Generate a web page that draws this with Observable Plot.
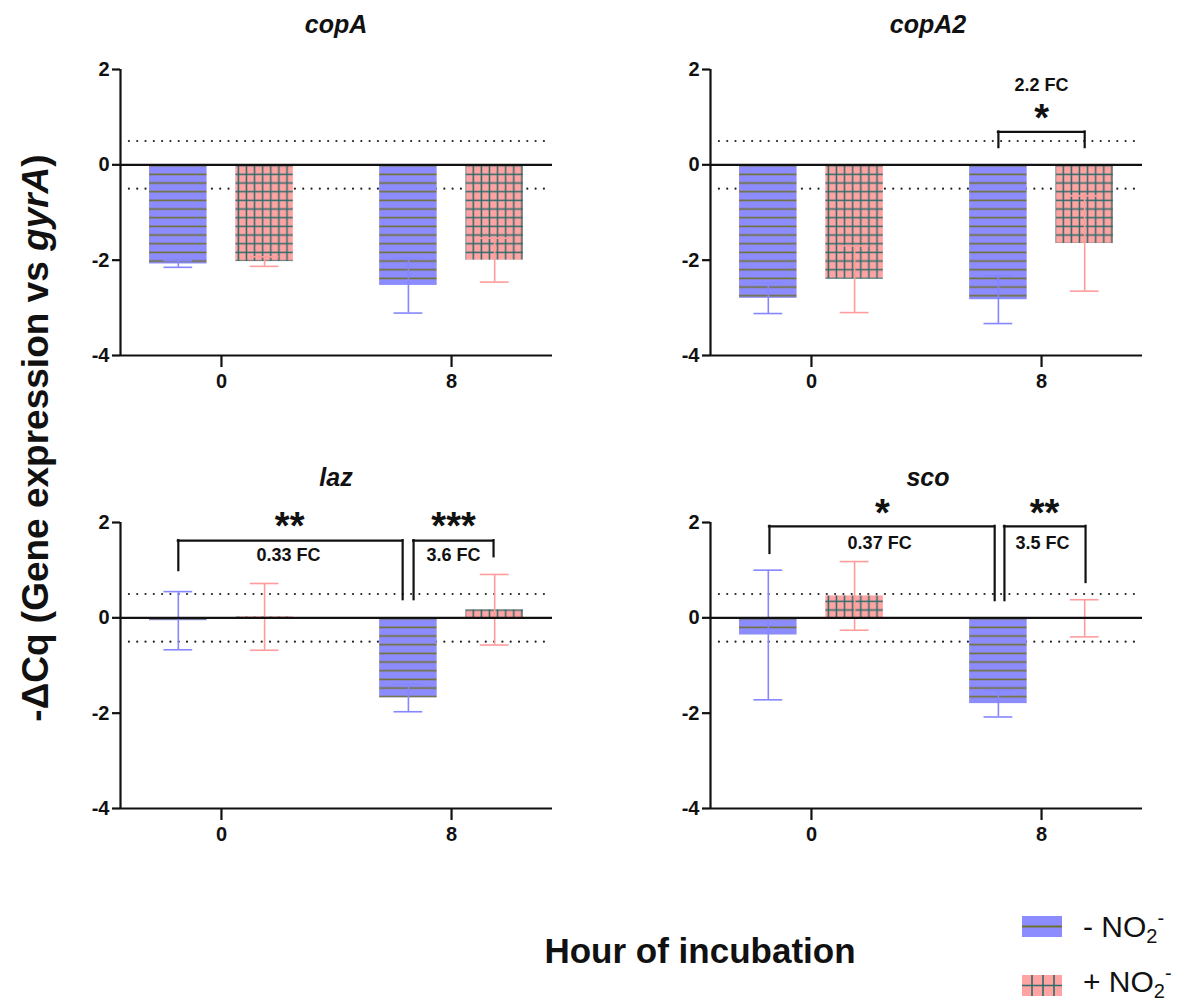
<!DOCTYPE html>
<html><head><meta charset="utf-8">
<script src="https://cdn.jsdelivr.net/npm/d3@7"></script>
<script src="https://cdn.jsdelivr.net/npm/@observablehq/plot@0.6"></script>
<style>
body{margin:0;background:#fff;}
#root{position:relative;width:1183px;height:1002px;overflow:hidden;background:#fff;font-family:"Liberation Sans",Arial,sans-serif;}
#root svg.pnl{position:absolute;}
</style></head><body>
<div id="root">
<svg width="0" height="0" style="position:absolute">
<defs>
<pattern id="hstripe" patternUnits="userSpaceOnUse" width="10" height="8.67">
 <rect width="10" height="8.67" fill="#8c8cff"/>
 <line x1="0" x2="10" y1="4.3" y2="4.3" stroke="#707030" stroke-width="1.6"/>
</pattern>
<pattern id="grid" patternUnits="userSpaceOnUse" width="8.1" height="8.67">
 <rect width="8.1" height="8.67" fill="#ffa3a3"/>
 <line x1="4" x2="4" y1="0" y2="8.67" stroke="#2f6b6b" stroke-width="1.5"/>
 <line x1="0" x2="8.1" y1="4.3" y2="4.3" stroke="#2f6b6b" stroke-width="1.5"/>
</pattern>
</defs></svg>
</div>
<script>
// ---- data ----
const genes = ["copA", "copA2", "laz", "sco"];
const hours = [0, 8];
const conditions = ["- NO2-", "+ NO2-"];
// order within each gene: [0 h −NO2−, 0 h +NO2−, 8 h −NO2−, 8 h +NO2−]
const copAMean  = [-2.08, -2.03, -2.53, -2.00];
const copASd    = [0.07, 0.10, 0.58, 0.46];
const copA2Mean = [-2.80, -2.40, -2.83, -1.65];
const copA2Sd   = [0.32, 0.70, 0.50, 1.00];
const lazMean   = [-0.06, 0.02, -1.68, 0.17];
const lazSd     = [0.61, 0.70, 0.29, 0.74];
const scoMean   = [-0.36, 0.46, -1.80, -0.01];
const scoSd     = [1.36, 0.72, 0.28, 0.39];
const yTicks = [-4, -2, 0, 2];
const thresholds = [-0.5, 0.5];

// significance brackets (x in hours, y in -ΔCq units)
const brGene   = ["copA2", "laz", "laz", "sco", "sco"];
const brX1     = [6.5, -1.5, 6.68, -1.46, 6.71];
const brX2     = [9.5, 6.3, 9.46, 6.37, 9.53];
const brTop    = [0.69, 1.62, 1.62, 1.92, 1.92];
const brLeftY  = [0.36, 0.99, 0.38, 1.35, 0.36];
const brRightY = [0.36, 0.38, 1.28, 0.36, 0.74];
const fcText   = ["2.2 FC", "0.33 FC", "3.6 FC", "0.37 FC", "3.5 FC"];
const fcX      = [8.0, 2.33, 8.07, 2.37, 8.03];
const fcY      = [1.66, 1.31, 1.31, 1.56, 1.56];
const starText = ["*", "**", "***", "*", "**"];
const starX    = [8.0, 2.37, 8.07, 2.47, 8.1];
const starY    = [1.11, 2.06, 2.06, 2.32, 2.32];

const means = {copA: copAMean, copA2: copA2Mean, laz: lazMean, sco: scoMean};
const sds = {copA: copASd, copA2: copA2Sd, laz: lazSd, sco: scoSd};

// ---- layout ----
const FONT = '"Liberation Sans", Arial, sans-serif';
const xDomain = [-3.51, 11.51];
const barOffset = 1.5, barHalf = 1.0, capHalf = 0.5;
const lefts = [40, 630], tops = [40, 493];
const fills = ["url(#hstripe)", "url(#grid)"];
const errColors = ["#8686ff", "#ff9c9c"];

const root = document.getElementById("root");

genes.forEach((gene, gi) => {
  const rows = [];
  hours.forEach((h, hi) => conditions.forEach((c, ci) => {
    const k = hi * 2 + ci;
    rows.push({hour: h, cond: ci, mean: means[gene][k], sd: sds[gene][k],
               center: h + (ci === 0 ? -barOffset : barOffset)});
  }));
  const br = brGene.map((g, i) => ({g, x1: brX1[i], x2: brX2[i], top: brTop[i], ly: brLeftY[i], ry: brRightY[i],
    fc: fcText[i], fx: fcX[i], fy: fcY[i], st: starText[i], sx: starX[i], sy: starY[i]})).filter(d => d.g === gene);

  const svg = Plot.plot({
    width: 527, height: 355,
    marginLeft: 80, marginRight: 15, marginTop: 29, marginBottom: 40,
    style: {fontFamily: FONT, background: "transparent", overflow: "visible"},
    x: {domain: xDomain},
    y: {domain: [-4, 2]},
    marks: [
      Plot.ruleY(thresholds, {x1: -3.2, x2: xDomain[1], stroke: "#222", strokeWidth: 2.2, strokeDasharray: "0,8.3", strokeLinecap: "round"}),
      Plot.rectY(rows, {x1: d => d.center - barHalf, x2: d => d.center + barHalf, y1: 0, y2: "mean", fill: d => fills[d.cond]}),
      Plot.ruleX(rows, {x: "center", y1: d => d.mean - d.sd, y2: d => d.mean + d.sd, stroke: d => errColors[d.cond], strokeWidth: 1.6}),
      Plot.ruleY(rows, {y: d => d.mean - d.sd, x1: d => d.center - capHalf, x2: d => d.center + capHalf, stroke: d => errColors[d.cond], strokeWidth: 1.6}),
      Plot.ruleY(rows, {y: d => d.mean + d.sd, x1: d => d.center - capHalf, x2: d => d.center + capHalf, stroke: d => errColors[d.cond], strokeWidth: 1.6}),
      Plot.ruleY([0], {stroke: "#111", strokeWidth: 2.2}),
      Plot.ruleY([-4], {stroke: "#111", strokeWidth: 2.2}),
      Plot.ruleX([xDomain[0]], {stroke: "#111", strokeWidth: 2.2}),
      Plot.axisY({ticks: yTicks, tickFormat: d => String(d), tickSize: 8, tickPadding: 3, strokeWidth: 2.2, stroke: "#111", fontSize: 20, fontWeight: "bold", fill: "#111", label: null}),
      Plot.axisX({ticks: hours, tickFormat: d => String(d), tickSize: 12, tickPadding: 6, strokeWidth: 2.2, stroke: "#111", fontSize: 20, fontWeight: "bold", fill: "#111", label: null}),
      // brackets
      Plot.ruleY(br, {y: "top", x1: "x1", x2: "x2", stroke: "#111", strokeWidth: 2.2, strokeLinecap: "square"}),
      Plot.ruleX(br, {x: "x1", y1: "ly", y2: "top", stroke: "#111", strokeWidth: 2.2, strokeLinecap: "square"}),
      Plot.ruleX(br, {x: "x2", y1: "ry", y2: "top", stroke: "#111", strokeWidth: 2.2, strokeLinecap: "square"}),
      Plot.text(br, {x: "fx", y: "fy", text: "fc", fontSize: 18, fontWeight: "bold", fill: "#111"}),
      Plot.text(br, {x: "sx", y: "sy", text: "st", fontSize: 38, fontWeight: "bold", fill: "#111", dy: 7})
    ]
  });
  svg.classList.add("pnl");
  svg.style.left = lefts[gi % 2] + "px";
  svg.style.top = tops[Math.floor(gi / 2)] + "px";
  root.appendChild(svg);
});

// ---- titles, axis labels and legend ----
const NS = "http://www.w3.org/2000/svg";
const ov = document.createElementNS(NS, "svg");
ov.setAttribute("width", 1183); ov.setAttribute("height", 1002);
ov.style.position = "absolute"; ov.style.left = "0px"; ov.style.top = "0px";
ov.style.fontFamily = FONT;
function txt(x, y, s, attrs) {
  const t = document.createElementNS(NS, "text");
  t.setAttribute("x", x); t.setAttribute("y", y);
  for (const k in attrs) t.setAttribute(k, attrs[k]);
  if (s != null) t.textContent = s;
  ov.appendChild(t); return t;
}
function tspan(parent, s, attrs) {
  const t = document.createElementNS(NS, "tspan");
  for (const k in attrs) t.setAttribute(k, attrs[k]);
  t.textContent = s; parent.appendChild(t); return t;
}
const titlePos = [[336, 33], [928, 33], [336, 486], [928, 486]];
genes.forEach((g, i) => txt(titlePos[i][0], titlePos[i][1], g,
  {"text-anchor": "middle", "font-size": 25, "font-weight": "bold", "font-style": "italic", fill: "#111"}));

const yl = txt(0, 0, null, {"text-anchor": "middle", "font-size": 37, "font-weight": "bold", fill: "#111",
  transform: "translate(48,438) rotate(-90)"});
tspan(yl, "-ΔCq (Gene expression vs ", {});
tspan(yl, "gyrA", {"font-style": "italic"});
tspan(yl, ")", {});

txt(700, 963, "Hour of incubation", {"text-anchor": "middle", "font-size": 35, "font-weight": "bold", fill: "#111"});

// legend swatches
function el(tag, attrs) { const e = document.createElementNS(NS, tag); for (const k in attrs) e.setAttribute(k, attrs[k]); ov.appendChild(e); return e; }
el("rect", {x: 1022, y: 916, width: 40, height: 21, fill: "#8c8cff"});
el("line", {x1: 1022, x2: 1062, y1: 926.5, y2: 926.5, stroke: "#707030", "stroke-width": 1.8});
el("rect", {x: 1022, y: 975, width: 40, height: 21, fill: "#ffa3a3"});
[1032, 1043, 1054].forEach(x => el("line", {x1: x, x2: x, y1: 975, y2: 996, stroke: "#2f6b6b", "stroke-width": 1.6}));
el("line", {x1: 1022, x2: 1062, y1: 985.5, y2: 985.5, stroke: "#2f6b6b", "stroke-width": 1.6});
const legendY = [937, 992];
["-", "+"].forEach((sign, i) => {
  const t = txt(1083, legendY[i], null, {"font-size": 30, fill: "#111"});
  tspan(t, sign + " NO", {});
  tspan(t, "2", {"font-size": 20, dy: 6});
  tspan(t, "-", {"font-size": 20, dy: -18});
});
root.appendChild(ov);
</script>
</body></html>
